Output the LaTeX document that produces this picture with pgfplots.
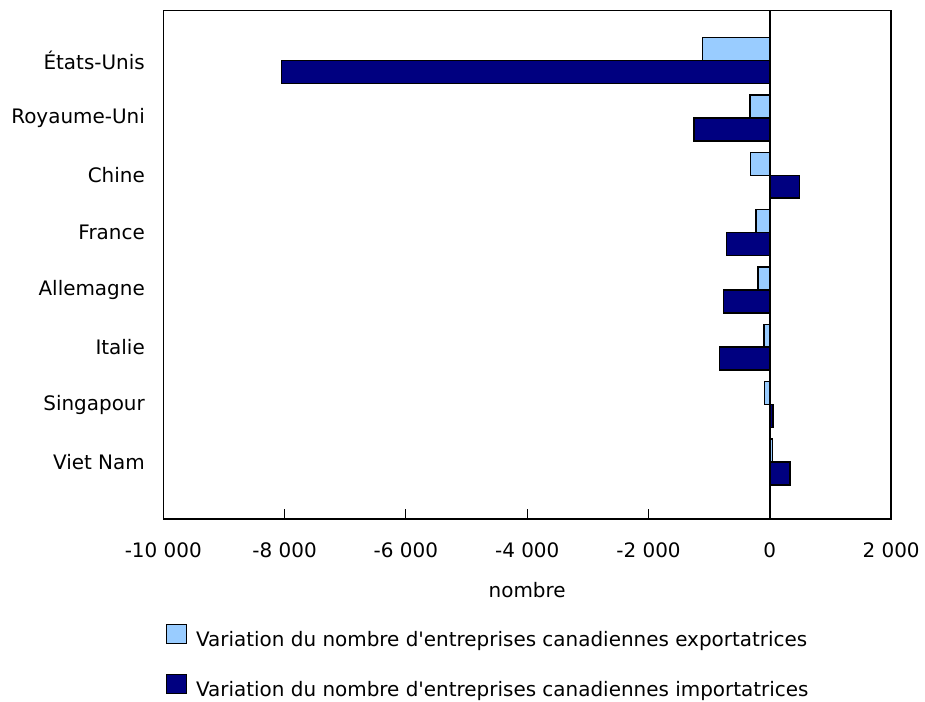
\documentclass[border=0pt]{standalone}
\usepackage{pgfplots}
\pgfplotsset{compat=1.18}
\usepackage{fontspec}
\setmainfont{DejaVu Sans}[Ligatures=TeXOff]
\definecolor{lightb}{RGB}{153,204,255}
\definecolor{navyb}{RGB}{0,0,128}
\begin{document}
\begin{tikzpicture}
\begin{axis}[
  font=\fontsize{20}{24}\selectfont,
  scale only axis,
  width=730pt, height=510pt,
  xbar,
  bar width=0.4,
  y dir=reverse,
  ymin=-0.87, ymax=8,
  xmin=-10000, xmax=2000,
  xtick={-10000,-8000,-6000,-4000,-2000,0,2000},
  ytick={0,1,2,3,4,5,6,7},
  yticklabels={États-Unis,Royaume-Uni,Chine,France,Allemagne,Italie,Singapour,Viet Nam},
  y tick style={draw=none},
  yticklabel style={xshift=-15pt},
  xtick pos=bottom,
  tick align=inside,
  major tick length=10pt,
  x tick style={black, line width=1.2pt},
  xticklabel style={yshift=-20pt},
  /pgf/number format/.cd, 1000 sep={\ }, assume math mode=true,
  /pgfplots/.cd,
  scaled x ticks=false,
  xlabel={nombre},
  xlabel style={yshift=-18pt},
  axis line style={black, line width=1.5pt},
  extra x ticks={0},
  extra x tick labels={},
  extra x tick style={grid=major, major grid style={black, line width=1.5pt}},
  legend style={at={(0.003,-0.205)}, anchor=north west, draw=none, inner sep=0pt,
    cells={anchor=west}, row sep=24pt, column sep=7pt, font=\fontsize{20}{24}\selectfont},
  legend image code/.code={\draw[#1, line width=1.5pt] (0pt,-4pt) rectangle (20pt,15pt);},
]
\addplot[fill=lightb, draw=black, line width=1.5pt, bar shift=-0.2]
  coordinates {(-1107,0) (-329,1) (-316,2) (-230,3) (-197,4) (-99,5) (-92,6) (40,7)};
\addplot[fill=navyb, draw=black, line width=1.5pt, bar shift=0.2]
  coordinates {(-8048,0) (-1250,1) (488,2) (-712,3) (-762,4) (-827,5) (50,6) (335,7)};
\legend{Variation du nombre d'entreprises canadiennes exportatrices,
        Variation du nombre d'entreprises canadiennes importatrices}
\end{axis}
\path ([xshift=-8pt,yshift=10pt]current bounding box.north west) rectangle ([xshift=2pt,yshift=-2pt]current bounding box.south east);
\end{tikzpicture}
\end{document}
